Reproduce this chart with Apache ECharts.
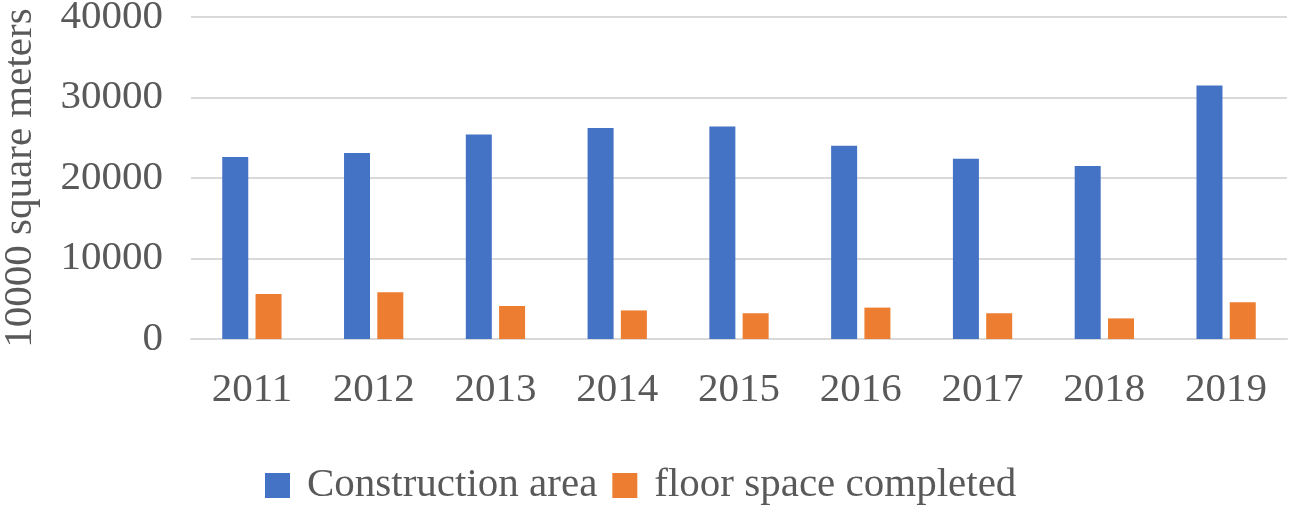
<!DOCTYPE html>
<html>
<head>
<meta charset="utf-8">
<script src="https://cdn.jsdelivr.net/npm/echarts@6/dist/echarts.min.js"></script>
<style>html,body{margin:0;padding:0;background:#fff;}#c{width:1300px;height:512px;}</style>
</head>
<body>
<div id="c"></div>
<script>
var years = ['2011','2012','2013','2014','2015','2016','2017','2018','2019'];
var constructionArea = [22600, 23100, 25400, 26200, 26400, 24000, 22400, 21500, 31500];
var floorSpaceCompleted = [5600, 5800, 4100, 3550, 3200, 3900, 3200, 2560, 4550];
var yTicks = [0, 10000, 20000, 30000, 40000];
var seriesNames = ['Construction area', 'floor space completed'];

var font = 'Liberation Serif';
var textColor = '#595959';
var chart = echarts.init(document.getElementById('c'));
chart.setOption({
  animation: false,
  backgroundColor: '#fff',
  grid: {left: 191, right: 13, top: 17, bottom: 173, containLabel: false, outerBoundsMode: 'none'},
  legend: {
    data: seriesNames,
    top: 460,
    left: 260,
    itemWidth: 25,
    itemHeight: 25,
    itemGap: 15,
    icon: 'rect',
    textStyle: {fontFamily: font, fontSize: 41, color: textColor, padding: [0, 0, 0, 12]}
  },
  xAxis: {
    type: 'category',
    data: years,
    axisLine: {show: true, lineStyle: {color: '#d9d9d9', width: 2}},
    axisTick: {show: false},
    axisLabel: {fontFamily: font, fontSize: 41, color: textColor, margin: 31}
  },
  yAxis: {
    type: 'value',
    min: yTicks[0],
    max: yTicks[yTicks.length - 1],
    interval: yTicks[1] - yTicks[0],
    name: '10000 square meters',
    nameLocation: 'middle',
    nameGap: 150,
    nameRotate: 90,
    nameTextStyle: {fontFamily: font, fontSize: 41, color: textColor},
    axisLine: {show: false},
    axisTick: {show: false},
    splitLine: {lineStyle: {color: '#d9d9d9', width: 2}},
    axisLabel: {fontFamily: font, fontSize: 41, color: textColor, margin: 28, formatter: function (v) { return String(v); }}
  },
  series: [
    {name: seriesNames[0], type: 'bar', data: constructionArea, barWidth: 26, barGap: '28%', itemStyle: {color: '#4472C4'}},
    {name: seriesNames[1], type: 'bar', data: floorSpaceCompleted, barWidth: 26, itemStyle: {color: '#ED7D31'}}
  ]
});
</script>
</body>
</html>
